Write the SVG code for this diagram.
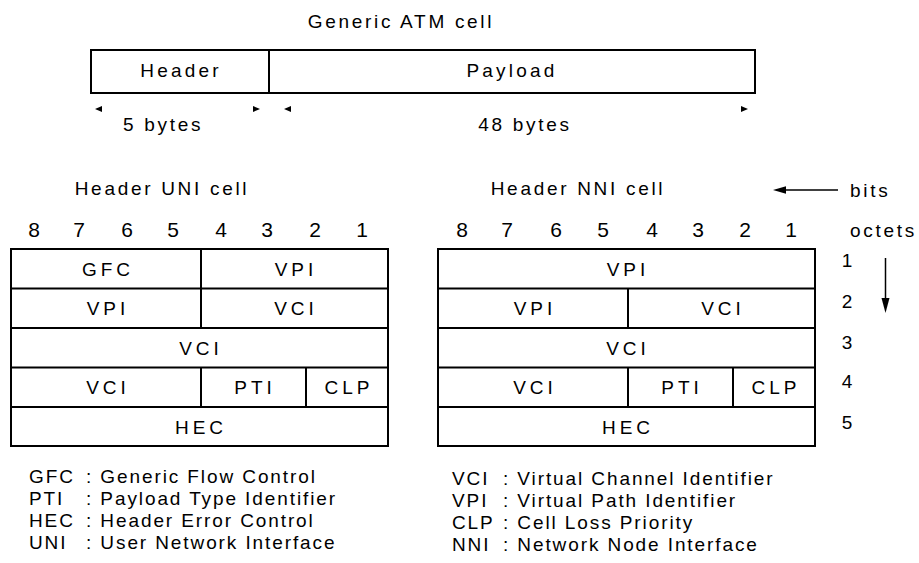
<svg xmlns="http://www.w3.org/2000/svg" width="919" height="563" viewBox="0 0 919 563">
<style>
text{font-family:"Liberation Sans",Arial,sans-serif;fill:#000;}
.t{font-size:19px;letter-spacing:2.7px;}
.h{font-size:19px;letter-spacing:3.2px;text-anchor:middle;}
.c{font-size:19px;letter-spacing:4px;text-anchor:middle;}
.n{font-size:21px;text-anchor:middle;}
.o{font-size:19px;text-anchor:middle;}
.l{font-size:19px;letter-spacing:1.9px;}
.box{fill:#fff;stroke:#000;stroke-width:2;}
.ln{stroke:#000;stroke-width:2;fill:none;}
.thin{stroke:#000;stroke-width:1.5;fill:none;}
.ar{fill:#000;}
</style>
<rect width="919" height="563" fill="#fff"/>
<text class="t" x="401" y="28" text-anchor="middle">Generic ATM cell</text>
<g id="atm-cell">
<rect class="box" x="91" y="50" width="664" height="43"/>
<line class="ln" x1="269" y1="50" x2="269" y2="93"/>
<text class="h" x="181" y="77">Header</text>
<text class="h" x="512" y="77">Payload</text>
</g>
<g id="connectors">
<polygon class="ar" points="95,109 102,106 102,112"/>
<polygon class="ar" points="260,109 253,106 253,112"/>
<polygon class="ar" points="284,109 291,106 291,112"/>
<polygon class="ar" points="748,109 741,106 741,112"/>
<line class="thin" x1="784" y1="190" x2="838" y2="190"/>
<polygon class="ar" points="773,190 786,186.3 786,193.7"/>
<line class="thin" x1="885.5" y1="258" x2="885.5" y2="300"/>
<polygon class="ar" points="885.5,313 881.5,298 889.5,298"/>
</g>
<text class="t" x="123" y="131">5 bytes</text>
<text class="t" x="525" y="131" text-anchor="middle">48 bytes</text>
<text class="t" x="162" y="195" text-anchor="middle">Header UNI cell</text>
<text class="t" x="578" y="195" text-anchor="middle">Header NNI cell</text>
<text class="t" x="850" y="197">bits</text>
<text class="t" x="850" y="237">octets</text>
<g id="bit-numbers">
<text class="n" x="34" y="237">8</text><text class="n" x="79" y="237">7</text><text class="n" x="127" y="237">6</text><text class="n" x="173" y="237">5</text>
<text class="n" x="221" y="237">4</text><text class="n" x="267" y="237">3</text><text class="n" x="315" y="237">2</text><text class="n" x="362" y="237">1</text>
<text class="n" x="462" y="237">8</text><text class="n" x="507" y="237">7</text><text class="n" x="556" y="237">6</text><text class="n" x="603" y="237">5</text>
<text class="n" x="652" y="237">4</text><text class="n" x="698" y="237">3</text><text class="n" x="745" y="237">2</text><text class="n" x="791" y="237">1</text>
</g>
<g id="octet-numbers">
<text class="o" x="847" y="267">1</text><text class="o" x="847" y="308">2</text><text class="o" x="847" y="349">3</text><text class="o" x="847" y="388">4</text><text class="o" x="847" y="429">5</text>
</g>
<g id="uni-header">
<rect class="box" x="11" y="249" width="377" height="197"/>
<line class="ln" x1="11" y1="288.5" x2="388" y2="288.5"/>
<line class="ln" x1="11" y1="328" x2="388" y2="328"/>
<line class="ln" x1="11" y1="367.5" x2="388" y2="367.5"/>
<line class="ln" x1="11" y1="407" x2="388" y2="407"/>
<line class="ln" x1="201" y1="249" x2="201" y2="328"/>
<line class="ln" x1="201" y1="367.5" x2="201" y2="407"/>
<line class="ln" x1="306" y1="367.5" x2="306" y2="407"/>
<text class="c" x="108" y="276">GFC</text><text class="c" x="296" y="276">VPI</text>
<text class="c" x="108" y="315">VPI</text><text class="c" x="296" y="315">VCI</text>
<text class="c" x="201" y="355">VCI</text>
<text class="c" x="108" y="394">VCI</text><text class="c" x="255" y="394">PTI</text><text class="c" x="349" y="394">CLP</text>
<text class="c" x="201" y="434">HEC</text>
</g>
<g id="nni-header">
<rect class="box" x="438" y="249" width="377" height="197"/>
<line class="ln" x1="438" y1="288.5" x2="815" y2="288.5"/>
<line class="ln" x1="438" y1="328" x2="815" y2="328"/>
<line class="ln" x1="438" y1="367.5" x2="815" y2="367.5"/>
<line class="ln" x1="438" y1="407" x2="815" y2="407"/>
<line class="ln" x1="628" y1="288.5" x2="628" y2="328"/>
<line class="ln" x1="628" y1="367.5" x2="628" y2="407"/>
<line class="ln" x1="733" y1="367.5" x2="733" y2="407"/>
<text class="c" x="628" y="276">VPI</text>
<text class="c" x="535" y="315">VPI</text><text class="c" x="723" y="315">VCI</text>
<text class="c" x="628" y="355">VCI</text>
<text class="c" x="535" y="394">VCI</text><text class="c" x="682" y="394">PTI</text><text class="c" x="776" y="394">CLP</text>
<text class="c" x="628" y="434">HEC</text>
</g>
<g id="legend">
<text class="l" y="483"><tspan x="29">GFC</tspan><tspan x="86">: Generic Flow Control</tspan></text>
<text class="l" y="505"><tspan x="29">PTI</tspan><tspan x="86">: Payload Type Identifier</tspan></text>
<text class="l" y="527"><tspan x="29">HEC</tspan><tspan x="86">: Header Error Control</tspan></text>
<text class="l" y="549"><tspan x="29">UNI</tspan><tspan x="86">: User Network Interface</tspan></text>
<text class="l" y="485"><tspan x="452">VCI</tspan><tspan x="503">: Virtual Channel Identifier</tspan></text>
<text class="l" y="507"><tspan x="452">VPI</tspan><tspan x="503">: Virtual Path Identifier</tspan></text>
<text class="l" y="529"><tspan x="452">CLP</tspan><tspan x="503">: Cell Loss Priority</tspan></text>
<text class="l" y="551"><tspan x="452">NNI</tspan><tspan x="503">: Network Node Interface</tspan></text>
</g>
</svg>
